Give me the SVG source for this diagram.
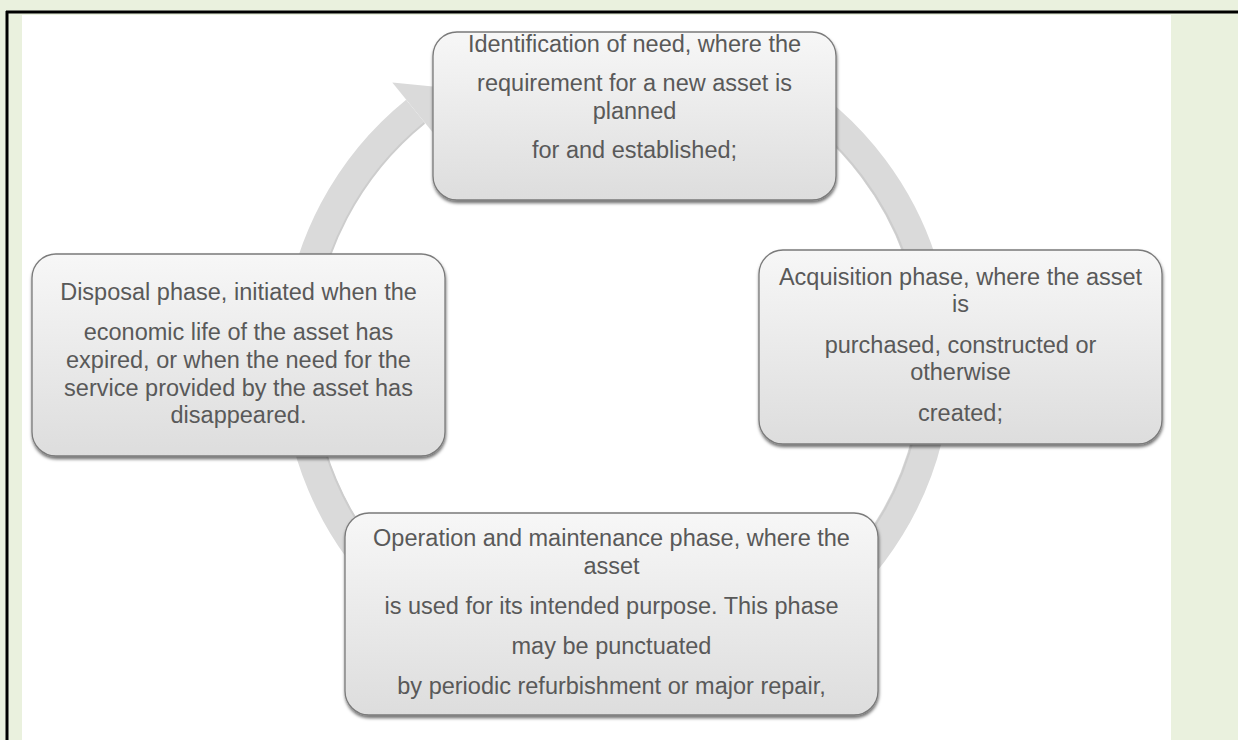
<svg xmlns="http://www.w3.org/2000/svg" width="1238" height="740" viewBox="0 0 1238 740">
<defs>
<linearGradient id="boxGrad" x1="0" y1="0" x2="0" y2="1">
<stop offset="0" stop-color="#F7F7F7"/>
<stop offset="1" stop-color="#DDDDDD"/>
</linearGradient>
<filter id="shadow" x="-5%" y="-5%" width="110%" height="115%">
<feDropShadow dx="0.5" dy="2.5" stdDeviation="1.5" flood-color="#000" flood-opacity="0.55"/>
</filter>
<style>
.box{fill:url(#boxGrad);stroke:#7A7A7A;stroke-width:1.3;filter:url(#shadow);}
.lbl{font-family:"Liberation Sans",Arial,sans-serif;font-size:23.5px;fill:#595959;text-anchor:middle;}
.ring{fill:none;stroke:#DADADA;stroke-width:30;}
.ringEdge{fill:none;stroke:#CDCDCD;stroke-width:2;}
.head{fill:#DADADA;}
</style>
</defs>
<rect x="0" y="0" width="1238" height="740" fill="#EAF1DE"/>
<rect x="22" y="15" width="1149" height="725" fill="#FFFFFF"/>
<line x1="6" y1="12" x2="1238" y2="12" stroke="#000" stroke-width="3"/>
<line x1="7" y1="11" x2="7" y2="740" stroke="#000" stroke-width="3"/>
<g id="connectors">
<path class="ring" d="M777,82.9 A320,320 0 1 1 415.6,111.3"/>
<path class="ringEdge" d="M770,95 A306,306 0 1 1 424.4,123"/>
<polygon class="head" points="392.3,82.6 448,88 438.9,140.1"/>
</g>
<g id="node-identification">
<rect class="box" x="433" y="32" width="403" height="168" rx="24"/>
<text class="lbl" x="634.5" y="52">Identification of need, where the</text>
<text class="lbl" x="634.5" y="91">requirement for a new asset is</text>
<text class="lbl" x="634.5" y="119">planned</text>
<text class="lbl" x="634.5" y="158">for and established;</text>
</g>
<g id="node-acquisition">
<rect class="box" x="759" y="250" width="403" height="194" rx="24"/>
<text class="lbl" x="960.5" y="285">Acquisition phase, where the asset</text>
<text class="lbl" x="960.5" y="312">is</text>
<text class="lbl" x="960.5" y="353">purchased, constructed or</text>
<text class="lbl" x="960.5" y="380">otherwise</text>
<text class="lbl" x="960.5" y="421">created;</text>
</g>
<g id="node-operation">
<rect class="box" x="345" y="513" width="533" height="202" rx="24"/>
<text class="lbl" x="611.5" y="546">Operation and maintenance phase, where the</text>
<text class="lbl" x="611.5" y="574">asset</text>
<text class="lbl" x="611.5" y="614">is used for its intended purpose. This phase</text>
<text class="lbl" x="611.5" y="654">may be punctuated</text>
<text class="lbl" x="611.5" y="694">by periodic refurbishment or major repair,</text>
</g>
<g id="node-disposal">
<rect class="box" x="32" y="254" width="413" height="202" rx="24"/>
<text class="lbl" x="238.5" y="300">Disposal phase, initiated when the</text>
<text class="lbl" x="238.5" y="340">economic life of the asset has</text>
<text class="lbl" x="238.5" y="368">expired, or when the need for the</text>
<text class="lbl" x="238.5" y="396">service provided by the asset has</text>
<text class="lbl" x="238.5" y="423">disappeared.</text>
</g>
</svg>
